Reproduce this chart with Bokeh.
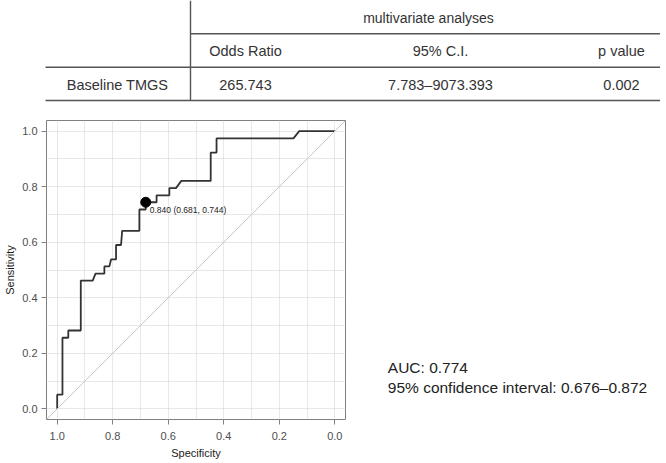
from bokeh.plotting import figure
from bokeh.models import Range1d, FixedTicker, PrintfTickFormatter, Slope
from bokeh.layouts import column, row
from bokeh.embed import file_html
from bokeh.resources import INLINE
from bokeh.core.properties import value

FONT = "Liberation Sans"

# ---- table data ----
group_header = "multivariate analyses"
col_headers = ["Odds Ratio", "95% C.I.", "p value"]
row_label = "Baseline TMGS"
row_values = ["265.743", "7.783\u20139073.393", "0.002"]

# ---- ROC data ----
specificity = [1.0, 1.0, 0.981, 0.981, 0.960, 0.960, 0.915, 0.915, 0.872, 0.862,
               0.830, 0.830, 0.812, 0.806, 0.788, 0.788, 0.770, 0.766, 0.704, 0.704,
               0.681, 0.681, 0.642, 0.642, 0.596, 0.596, 0.572, 0.553, 0.447, 0.447,
               0.426, 0.426, 0.149, 0.128, 0.0]
sensitivity = [0.0, 0.051, 0.051, 0.256, 0.256, 0.282, 0.282, 0.462, 0.462, 0.487,
               0.487, 0.513, 0.513, 0.538, 0.538, 0.590, 0.590, 0.641, 0.641, 0.718,
               0.718, 0.744, 0.744, 0.769, 0.769, 0.795, 0.795, 0.821, 0.821, 0.923,
               0.923, 0.974, 0.974, 1.0, 1.0]
best_threshold = 0.840
best_spec = 0.681
best_sens = 0.744
auc = 0.774
auc_ci = [0.676, 0.872]

major_ticks = [0.0, 0.2, 0.4, 0.6, 0.8, 1.0]
minor_ticks = [0.1, 0.3, 0.5, 0.7, 0.9]

TXT = "#333333"
LINE = "#555555"
W = 660

# ---------------- table figure ----------------
tbl = figure(width=W, height=110, x_range=Range1d(0, W), y_range=Range1d(110, 0),
             x_axis_type=None, y_axis_type=None, output_backend="svg",
             toolbar_location=None, min_border=0)
tbl.grid.visible = False
tbl.outline_line_color = None

tbl.segment(x0=[190, 190, 45, 45], y0=[0, 33.3, 66.7, 100],
            x1=[190, 666, 666, 666], y1=[100, 33.3, 66.7, 100],
            line_color=LINE, line_width=1.4)

col_x = [245, 440, 621]
tbl.text(x=[428], y=[17], text=[group_header], text_align="center",
         text_baseline="middle", text_font=value(FONT), text_font_size="14px",
         text_color=TXT)
tbl.text(x=col_x, y=[50] * 3, text=col_headers, text_align="center",
         text_baseline="middle", text_font=value(FONT), text_font_size="14.5px",
         text_color=TXT)
tbl.text(x=[117] + col_x, y=[84] * 4, text=[row_label] + row_values,
         text_align="center", text_baseline="middle", text_font=value(FONT),
         text_font_size="14.5px", text_color=TXT)

# ---------------- ROC figure ----------------
roc = figure(frame_width=299, frame_height=299,
             x_range=Range1d(1.0385, -0.0385), y_range=Range1d(-0.0385, 1.0385),
             min_border_left=46, min_border_right=10, min_border_top=10,
             min_border_bottom=36, output_backend="svg", toolbar_location=None)
roc.outline_line_color = "#808080"
roc.outline_line_width = 1

for ax in (roc.xaxis[0], roc.yaxis[0]):
    ax.ticker = FixedTicker(ticks=major_ticks, minor_ticks=minor_ticks)
    ax.formatter = PrintfTickFormatter(format="%.1f")
    ax.axis_line_color = None
    ax.major_tick_line_color = "#808080"
    ax.major_tick_out = 5
    ax.major_tick_in = 0
    ax.minor_tick_out = 0
    ax.minor_tick_in = 0
    ax.major_label_text_font = FONT
    ax.major_label_text_font_size = "11px"
    ax.major_label_text_color = "#4d4d4d"
    ax.axis_label_text_font = FONT
    ax.axis_label_text_font_size = "11px"
    ax.axis_label_text_font_style = "normal"
    ax.axis_label_text_color = "#1a1a1a"
roc.xaxis.major_label_standoff = 7
roc.xaxis.axis_label_standoff = 4
roc.yaxis.major_label_standoff = 4
roc.yaxis.axis_label_standoff = 3
roc.xaxis.axis_label = "Specificity"
roc.yaxis.axis_label = "Sensitivity"

for g in (roc.xgrid[0], roc.ygrid[0]):
    g.ticker = FixedTicker(ticks=major_ticks, minor_ticks=minor_ticks)
    g.grid_line_color = "#d0d0d0"
    g.grid_line_dash = "1 1"
    g.grid_line_width = 1
    g.minor_grid_line_color = "#d0d0d0"
    g.minor_grid_line_dash = "1 1"
    g.minor_grid_line_width = 1

roc.add_layout(Slope(gradient=-1, y_intercept=1, line_color="#c8c8c8", line_width=1))

roc.line(x=specificity, y=sensitivity, line_color="#333333", line_width=1.8)
roc.scatter(x=[best_spec], y=[best_sens], size=10, fill_color="black",
            line_color="black")
roc.text(x=[best_spec], y=[best_sens],
         text=[f"{best_threshold:.3f} ({best_spec:.3f}, {best_sens:.3f})"],
         x_offset=4, y_offset=8, text_baseline="middle", text_align="left",
         text_font=value(FONT), text_font_size="8.5px", text_color="#222222")

# ---------------- AUC text figure (frame aligned with the ROC frame) ----------------
txt = figure(frame_width=W - 355, frame_height=299,
             x_range=Range1d(355, W), y_range=Range1d(419, 120),
             x_axis_type=None, y_axis_type=None, output_backend="svg",
             toolbar_location=None, min_border_left=0, min_border_right=0,
             min_border_top=10, min_border_bottom=36)
txt.grid.visible = False
txt.outline_line_color = None
txt.text(x=[387.3, 387.3], y=[366.7, 386.7],
         text=[f"AUC: {auc:.3f}",
               f"95% confidence interval: {auc_ci[0]:.3f}\u2013{auc_ci[1]:.3f}"],
         text_align="left", text_baseline="middle", text_font=value(FONT),
         text_font_size="15.5px", text_color="#222222")

layout = column(tbl, row(roc, txt))
open("out.html", "w").write(file_html(layout, INLINE))
